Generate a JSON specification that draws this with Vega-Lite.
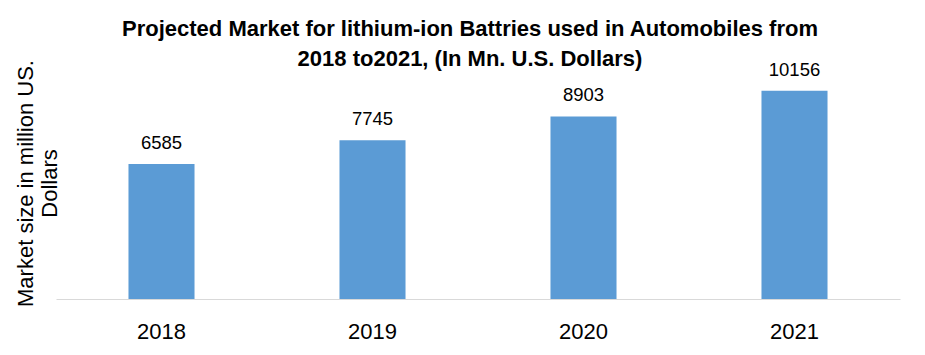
{
  "$schema": "https://vega.github.io/schema/vega-lite/v6.json",
  "autosize": "none",
  "width": 844,
  "height": 246,
  "padding": {"left": 56, "top": 53, "right": 25, "bottom": 56},
  "background": "white",
  "title": {
    "text": ["Projected Market for lithium-ion  Battries used in Automobiles from", "2018 to2021, (In Mn. U.S. Dollars)"],
    "font": "Liberation Sans",
    "fontSize": 22,
    "fontWeight": "bold",
    "color": "#000000",
    "lineHeight": 30,
    "anchor": "middle",
    "frame": "group",
    "baseline": "alphabetic",
    "offset": 0,
    "dy": 35,
    "dx": -8
  },
  "data": {
    "values": [
      {"year": "2018", "value": 6585},
      {"year": "2019", "value": 7745},
      {"year": "2020", "value": 8903},
      {"year": "2021", "value": 10156}
    ]
  },
  "config": {"view": {"stroke": null}},
  "encoding": {
    "x": {
      "field": "year",
      "type": "ordinal",
      "scale": {"paddingInner": 0.687, "paddingOuter": 0.3435},
      "axis": {
        "title": null,
        "labelAngle": 0,
        "labelFont": "Liberation Sans",
        "labelFontSize": 22,
        "labelColor": "#000000",
        "labelPadding": 22,
        "ticks": false,
        "domainColor": "#d9d9d9",
        "domainWidth": 1
      }
    },
    "y": {
      "field": "value",
      "type": "quantitative",
      "scale": {"domain": [0, 12000]},
      "axis": {
        "title": ["Market size in million US.", "Dollars"],
        "titleFont": "Liberation Sans",
        "titleFontSize": 22,
        "titleFontWeight": "normal",
        "titleColor": "#000000",
        "titleLineHeight": 24,
        "titleAngle": -90,
        "titleAlign": "center",
        "titleBaseline": "middle",
        "titleX": -30.5,
        "titleY": 130,
        "labels": false,
        "ticks": false,
        "domain": false,
        "grid": false
      }
    }
  },
  "layer": [
    {"mark": {"type": "bar", "color": "#5b9bd5"}},
    {
      "mark": {"type": "text", "dy": -15, "baseline": "alphabetic", "font": "Liberation Sans", "fontSize": 18.5, "color": "#000000"},
      "encoding": {"text": {"field": "value", "type": "quantitative", "format": "d"}}
    }
  ]
}
